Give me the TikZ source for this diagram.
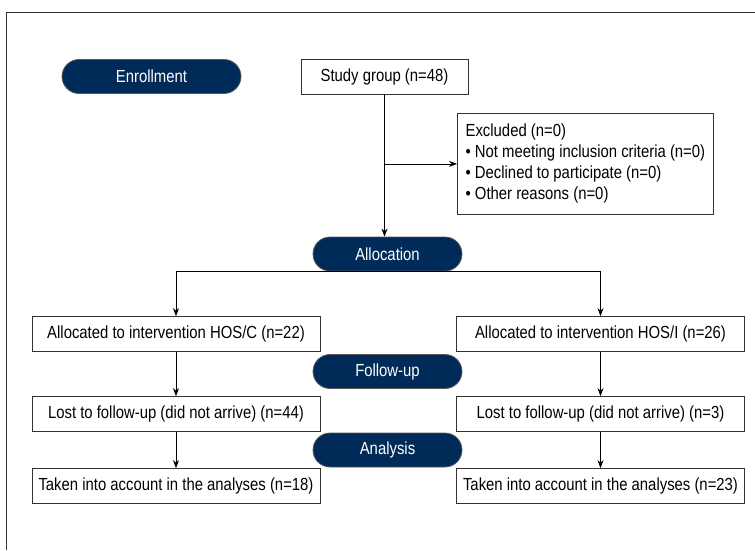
\documentclass[tikz,border=0pt]{standalone}
\usepackage{fontspec}
\setmainfont[FakeStretch=0.85]{Liberation Sans}
\usetikzlibrary{arrows.meta,shapes.misc}
\definecolor{navy}{RGB}{0,42,88}
\tikzset{
  stage/.style={rounded rectangle, fill=navy, draw=black!65, text=white,
    minimum width=149pt, minimum height=34pt, inner sep=0pt},
  box/.style={draw=black!80, fill=white, minimum width=288pt,
    minimum height=35pt, inner sep=0pt},
  arr/.style={-{Stealth[length=8pt,width=6pt]}},
}
\begin{document}
\begin{tikzpicture}[x=1pt, y=-1pt, font=\fontsize{17.5}{21}\selectfont, line width=0.8pt]
    \useasboundingbox (0,0) rectangle (755,550);
    \draw[black!80] (6,550) -- (6,12) -- (755,12);
    % stages
    \node[stage, minimum width=179pt] (enrol) at (151.5,76.5) {Enrollment};
    \node[stage] (alloc) at (387.5,254) {Allocation};
    \node[stage] (follow) at (387.5,371.5) {Follow-up};
    \node[stage] (anal) at (387.5,450) {Analysis};
    % boxes
    \node[box, minimum width=167pt] (study) at (384.5,76.5) {Study group (n=48)};
    \node[box, minimum width=256pt, minimum height=101pt, anchor=north west,
      align=left, inner xsep=8pt] (excl) at (457,113) {%
      Excluded (n=0)\\
      • Not meeting inclusion criteria (n=0)\\
      • Declined to participate (n=0)\\
      • Other reasons (n=0)};
    \node[box] (hosc) at (176,334) {Allocated to intervention HOS/C (n=22)};
    \node[box] (hosi) at (600.5,334) {Allocated to intervention HOS/I (n=26)};
    \node[box] (lostc) at (176,414) {Lost to follow-up (did not arrive) (n=44)};
    \node[box] (losti) at (600.5,414) {Lost to follow-up (did not arrive) (n=3)};
    \node[box] (takenc) at (176,486) {Taken into account in the analyses (n=18)};
    \node[box] (takeni) at (600.5,486) {Taken into account in the analyses (n=23)};
    % connectors
    \coordinate (split) at (study.south |- excl.west);
    \draw[arr] (study.south) -- (study.south |- alloc.north);
    \draw[arr] (split) -- (excl.west);
    \draw[arr] (alloc.south) -| (hosc.north);
    \draw[arr] (alloc.south) -| (hosi.north);
    \draw[arr] (hosc) -- (lostc);
    \draw[arr] (hosi) -- (losti);
    \draw[arr] (lostc) -- (takenc);
    \draw[arr] (losti) -- (takeni);
\end{tikzpicture}
\end{document}
